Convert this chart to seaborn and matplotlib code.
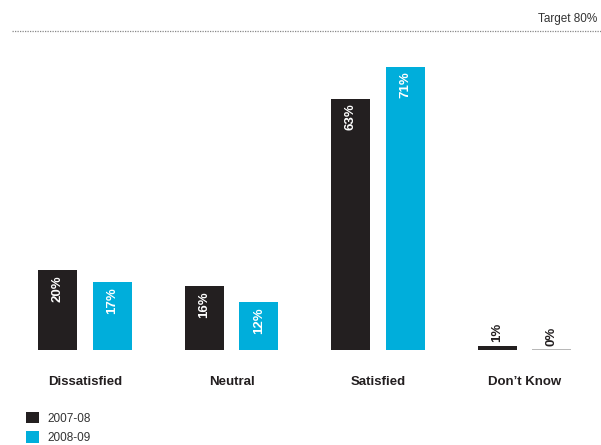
import matplotlib
matplotlib.use("Agg")
import matplotlib.pyplot as plt
import seaborn as sns
import pandas as pd

categories = ["Dissatisfied", "Neutral", "Satisfied", "Don\u2019t Know"]
years = ["2007-08", "2008-09"]
values_2007 = [20, 16, 63, 1]
values_2008 = [17, 12, 71, 0]
target = 80

dark = "#231f20"
cyan = "#00aedb"

sns.set_theme(style="white")
plt.rcParams["font.family"] = ["Liberation Sans", "DejaVu Sans"]

df = pd.DataFrame({
    "category": categories * 2,
    "year": [years[0]] * 4 + [years[1]] * 4,
    "value": values_2007 + values_2008,
})

W, H = 601, 445
fig = plt.figure(figsize=(W / 100, H / 100), dpi=100)
base_px, top_px = 350, 31
ax = fig.add_axes([0, (H - base_px) / H, 1, (base_px - top_px) / H])

sns.barplot(data=df, x="category", y="value", hue="year", order=categories,
            hue_order=years, palette=[dark, cyan], width=0.748, gap=0.29,
            saturation=1, linewidth=0, ax=ax, legend=True)

ax.set_xlim(-85 / 146.5, (W - 85) / 146.5)
ax.set_ylim(0, target)
ax.set_xlabel("")
ax.set_ylabel("")
ax.set_yticks([])
for s in ax.spines.values():
    s.set_visible(False)
ax.tick_params(axis="x", length=0, pad=19)
for lbl in ax.get_xticklabels():
    lbl.set_fontweight("bold")
    lbl.set_fontsize(9.5)
    lbl.set_color(dark)

# target line
ax.axhline(target, xmin=12 / W, xmax=1, color="#888888", linestyle=(0, (1, 1)),
           linewidth=0.9, clip_on=False)
ax.text(1 - 4 / W, target + 2.2, f"Target {target}%", transform=ax.get_yaxis_transform(),
        ha="right", va="baseline", fontsize=8.5, color="#333333")

# value labels
for cont in ax.containers:
    for rect in cont:
        v = rect.get_height()
        xc = rect.get_x() + rect.get_width() / 2
        if v >= 5:
            ax.text(xc, v - 1.2, f"{v:.0f}%", rotation=90, ha="center", va="top",
                    color="white", fontsize=9.5, fontweight="bold")
        else:
            ax.text(xc, v + 1.0, f"{v:.0f}%", rotation=90, ha="center", va="bottom",
                    color=dark, fontsize=9.5, fontweight="bold")
            if v == 0:
                rect.set_edgecolor("#aaaaaa")
                rect.set_linewidth(1.2)

sns.move_legend(ax, "upper left", bbox_to_anchor=(26 / W, (H - 412) / H),
                bbox_transform=fig.transFigure, frameon=False, title=None,
                fontsize=8.5, handlelength=1.1, handleheight=1.1,
                handletextpad=0.75, labelspacing=0.55, borderpad=0, borderaxespad=0)
for t in ax.get_legend().get_texts():
    t.set_color("#333333")

fig.savefig("out.png", dpi=100)
